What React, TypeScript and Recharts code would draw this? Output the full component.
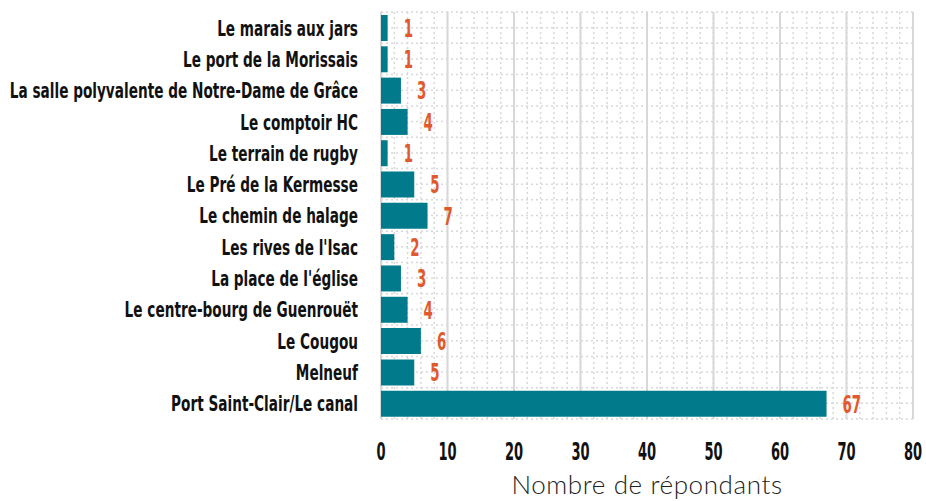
import { BarChart, Bar, XAxis, YAxis, CartesianGrid, LabelList } from 'recharts'

const places = [
  'Le marais aux jars',
  'Le port de la Morissais',
  'La salle polyvalente de Notre-Dame de Grâce',
  'Le comptoir HC',
  'Le terrain de rugby',
  'Le Pré de la Kermesse',
  'Le chemin de halage',
  "Les rives de l'Isac",
  "La place de l'église",
  'Le centre-bourg de Guenrouët',
  'Le Cougou',
  'Melneuf',
  'Port Saint-Clair/Le canal',
]

const respondents = [1, 1, 3, 4, 1, 5, 7, 2, 3, 4, 6, 5, 67]

const xTicks = [0, 10, 20, 30, 40, 50, 60, 70, 80]

const data = places.map((name, i) => ({ name, value: respondents[i] }))

const narrow = "'DejaVu Sans Condensed', 'DejaVu Sans', sans-serif"
const teal = '#017b8c'
const orange = '#e05a2e'
const gridGrey = '#d8d8d8'

// the source font is a very condensed bold face; squeeze DejaVu Condensed to match
function PlaceTick({ x, y, payload }: any) {
  return (
    <g transform={`translate(${x},${y})`}>
      <text
        transform="scale(0.69,1)"
        textAnchor="end"
        dy="0.36em"
        fill="#111"
        fontSize={22}
        fontWeight={700}
        fontFamily={narrow}
      >
        {payload.value}
      </text>
    </g>
  )
}

function CountTick({ x, y, payload }: any) {
  return (
    <g transform={`translate(${x},${y})`}>
      <text
        transform="scale(0.58,1)"
        textAnchor="middle"
        dy="0.73em"
        fill="#111"
        fontSize={25}
        fontWeight={700}
        fontFamily={narrow}
      >
        {payload.value}
      </text>
    </g>
  )
}

function ValueLabel({ x, y, width, height, value }: any) {
  return (
    <g transform={`translate(${x + width + 16},${y + height / 2})`}>
      <text
        transform="scale(0.62,1)"
        textAnchor="start"
        dy="0.37em"
        fill={orange}
        fontSize={24}
        fontWeight={700}
        fontFamily={narrow}
      >
        {value}
      </text>
    </g>
  )
}

export default function App() {
  const rows = places.length

  return (
    <div style={{ position: 'fixed', top: 0, left: 0, background: '#fff' }}>
      <BarChart
        width={926}
        height={501}
        data={data}
        layout="vertical"
        margin={{ top: 12, right: 13, left: 0, bottom: 0 }}
        barSize={26}
      >
        {/* dotted minor grid: every 2 respondents, every half row */}
        <CartesianGrid
          stroke={gridGrey}
          strokeWidth={1.5}
          strokeDasharray="2 3"
          horizontalCoordinatesGenerator={({ offset }: any) =>
            Array.from({ length: rows * 2 + 1 }, (_, i) => offset.top + (i * offset.height) / (rows * 2))
          }
          verticalCoordinatesGenerator={({ offset }: any) =>
            Array.from({ length: 41 }, (_, i) => offset.left + (i * offset.width) / 40)
          }
        />
        <CartesianGrid horizontal={false} stroke={gridGrey} strokeWidth={2} />
        <XAxis
          type="number"
          domain={[0, 80]}
          ticks={xTicks}
          axisLine={false}
          tickLine={false}
          tickSize={0}
          tickMargin={23}
          height={82}
          tick={<CountTick />}
          label={{
            value: 'Nombre de répondants',
            position: 'insideBottom',
            offset: 7,
            fill: '#222',
            fontSize: 26,
            fontWeight: 300,
            letterSpacing: 0.6,
            fontFamily: 'Lato, sans-serif',
          }}
        />
        <YAxis
          type="category"
          dataKey="name"
          width={381}
          axisLine={false}
          tickLine={false}
          tickSize={0}
          tickMargin={23}
          interval={0}
          tick={<PlaceTick />}
        />
        <Bar dataKey="value" fill={teal} isAnimationActive={false}>
          <LabelList dataKey="value" content={<ValueLabel />} />
        </Bar>
      </BarChart>
    </div>
  )
}
